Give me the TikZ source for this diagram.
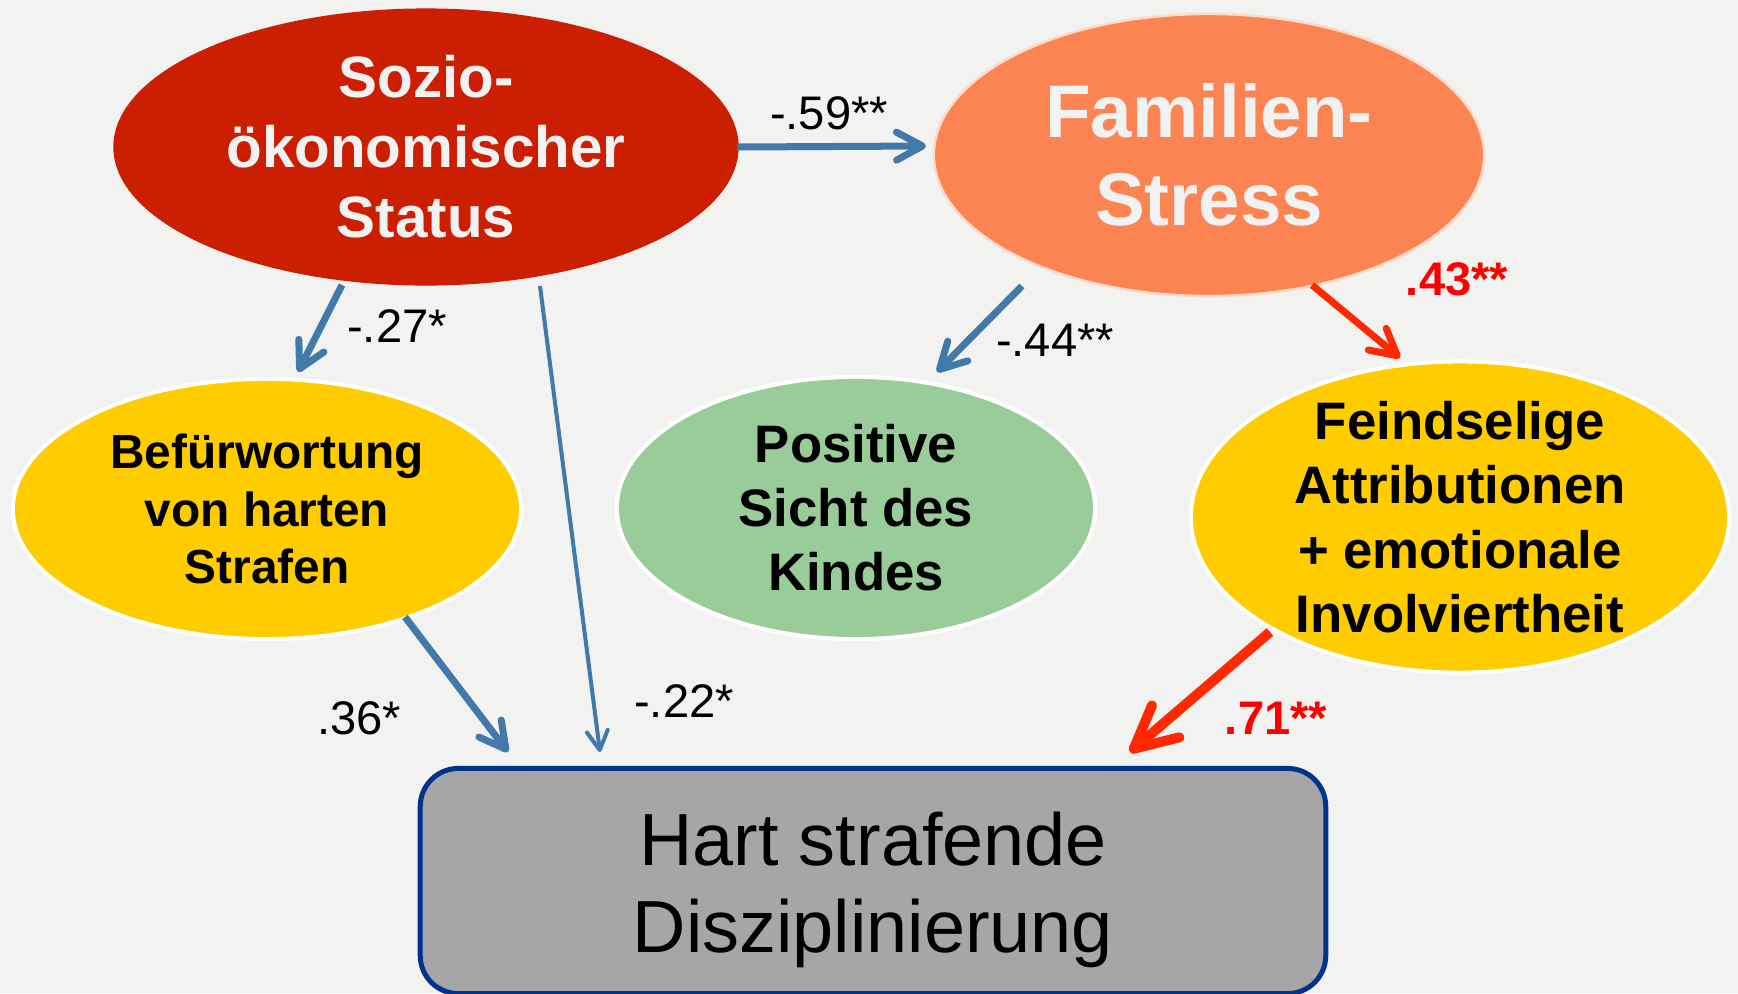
\documentclass[tikz,border=0pt]{standalone}
\usepackage{fontspec}
\setmainfont{Liberation Sans}
\usetikzlibrary{positioning, calc, arrows.meta, shapes.geometric}

\definecolor{bgcol}{RGB}{242,242,240}
\definecolor{sesred}{RGB}{204,30,0}
\definecolor{stressorange}{RGB}{252,132,82}
\definecolor{mediyellow}{RGB}{255,204,0}
\definecolor{posgreen}{RGB}{153,204,153}
\definecolor{boxgrey}{RGB}{166,166,166}
\definecolor{boxblue}{RGB}{0,51,140}
\definecolor{arrblue}{RGB}{65,121,171}
\definecolor{arrred}{RGB}{255,40,0}
\definecolor{labred}{RGB}{255,0,0}

\begin{document}
\begin{tikzpicture}[x=0.01cm,y=-0.01cm,
    blob/.style={ellipse, inner sep=0pt, inner ysep=-8pt, align=center},
    conn/.style={draw=arrblue, line width=0.7mm, -{Straight Barb[length=2.6mm,width=2.8mm,round]}},
    thinconn/.style={draw=arrblue, line width=0.4mm, -{Straight Barb[length=1.9mm,width=2.1mm,round]}},
    hotconn/.style={draw=arrred, line width=0.7mm, -{Straight Barb[length=2.6mm,width=2.8mm,round]}},
    hotthick/.style={draw=arrred, line width=1mm, -{Straight Barb[length=4.2mm,width=4.2mm,round]}},
    lbl/.style={font=\fontsize{13.4}{16}\selectfont},
    hotlbl/.style={font=\fontsize{13.4}{16}\selectfont\bfseries, text=labred}]
    \fill[bgcol] (0,0) rectangle (1738,993);
    \useasboundingbox (0,0) rectangle (1738,993);
    % Konstrukte
    \node[blob, fill=sesred, minimum width=6.25cm, minimum height=2.77cm, text=white!95!black,
        font=\fontsize{16.6}{19.9}\selectfont\bfseries] (ses) at (426,147) {Sozio-\\ökonomischer\\Status};
    \node[blob, fill=stressorange, draw=white!70!stressorange, line width=0.25mm, minimum width=5.5cm, minimum height=2.82cm,
        text=white!95!black, font=\fontsize{21.2}{25.2}\selectfont\bfseries] (fs) at (1209,155) {Familien-\\Stress};
    \node[blob, fill=mediyellow, draw=white, line width=0.4mm, minimum width=5.08cm, minimum height=2.6cm,
        font=\fontsize{13.6}{16.4}\selectfont\bfseries] (bef) at (267,509) {Befürwortung\\von harten\\Strafen};
    \node[blob, fill=posgreen, draw=white, line width=0.4mm, minimum width=4.78cm, minimum height=2.62cm,
        font=\fontsize{15}{18.2}\selectfont\bfseries] (pos) at (856,508) {Positive\\Sicht des\\Kindes};
    \node[blob, fill=mediyellow, draw=white, line width=0.4mm, minimum width=5.38cm, minimum height=3.11cm,
        font=\fontsize{15}{18.3}\selectfont\bfseries] (feind) at (1460,517) {Feindselige\\Attributionen\\+ emotionale\\Involviertheit};
    \node[draw=boxblue, line width=0.5mm, fill=boxgrey, rounded corners=3.8mm, minimum width=9.05cm,
        minimum height=2.25cm] (hart) at (873,881) {};
    \node[align=center, font=\fontsize{21}{24.6}\selectfont] (harttext) at ($(hart)+(0,9)$) {Hart strafende\\Disziplinierung};
    % Pfade
    \draw[conn] ($(ses)+(311,0)$) -- ($(fs)+(-283,-9)$);
    \draw[conn] ($(ses)+(-84,138)$) -- ($(bef)+(31,-137)$);
    \draw[thinconn] ($(ses)+(114,139)$) -- ($(hart)+(-273,-129)$);
    \draw[conn] ($(bef)+(138,108)$) -- ($(hart)+(-365,-129)$);
    \draw[conn] ($(fs)+(-187,131)$) -- ($(pos)+(81,-136)$);
    \draw[hotconn] ($(fs)+(103,130)$) -- ($(feind)+(-60,-159)$);
    \draw[hotthick] ($(feind)+(-190,115)$) -- ($(hart)+(257,-129)$);
    % Koeffizienten
    \node[lbl] (wsesfs) at (829,113) {-.59**};
    \node[lbl] (wsesbef) at (397,326) {-.27*};
    \node[lbl] (wfspos) at (1055,340) {-.44**};
    \node[hotlbl] (wfsfeind) at (1457,279) {.43**};
    \node[lbl] (wbefhart) at (359,718) {.36*};
    \node[lbl] (wseshart) at (684,701) {-.22*};
    \node[hotlbl] (wfeindhart) at (1276,718) {.71**};
\end{tikzpicture}
\end{document}
